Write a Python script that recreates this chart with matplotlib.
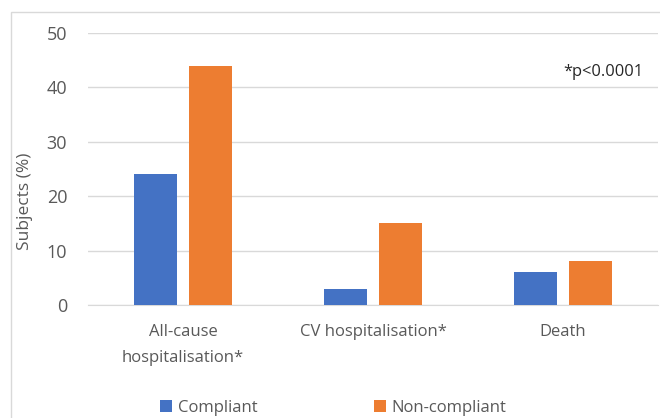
import matplotlib
matplotlib.use("Agg")
import matplotlib.pyplot as plt
import numpy as np
from matplotlib.patches import Rectangle

categories = ["All-cause\nhospitalisation*", "CV hospitalisation*", "Death"]
series_names = ["Compliant", "Non-compliant"]
compliant = [24, 3, 6]
non_compliant = [44, 15, 8]
yticks = [0, 10, 20, 30, 40, 50]

plt.rcParams['font.family'] = ['Open Sans', 'DejaVu Sans']

fig = plt.figure(figsize=(6.6, 4.18), dpi=100)
fig.patch.set_facecolor("white")
# outer chart border (cropped at right and bottom)
fig.patches.append(Rectangle((11/660, -0.1), 1.2, (418-12)/418 + 0.1,
                             transform=fig.transFigure, fill=False,
                             edgecolor="#D9D9D9", linewidth=1.0))

ax = fig.add_axes([88/660, (418-305)/418, 570/660, 272/418])
x = np.arange(len(categories))
w = 0.226
off = 0.145
ax.bar(x - off, compliant, w, color="#4472C4", label=series_names[0], zorder=3)
ax.bar(x + off, non_compliant, w, color="#ED7D31", label=series_names[1], zorder=3)

ax.set_xlim(-0.5, 2.5)
ax.set_ylim(0, 50)
ax.set_yticks(yticks)
ax.set_yticklabels([str(t) for t in yticks])
ax.grid(axis="y", color="#D9D9D9", linewidth=1.0, zorder=0)
for s in ["top", "right", "left"]:
    ax.spines[s].set_visible(False)
ax.spines["bottom"].set_color("#D9D9D9")
ax.tick_params(axis="both", length=0, colors="#595959")
ax.tick_params(axis="y", pad=15, labelsize=13)
ax.tick_params(axis="x", pad=14, labelsize=12)
ax.set_xticks(x)
ax.set_xticklabels(categories, linespacing=1.8)

ax.set_ylabel("Subjects (%)", color="#595959", fontsize=12.5)
ax.yaxis.set_label_coords(-0.096, 0.382)

fig.text(643/660, (418-72)/418, "*p<0.0001", ha="right", va="center",
         fontsize=11.8, color="#262626")

leg = fig.legend(loc="center", bbox_to_anchor=(0.505, 0.025), ncol=2,
                 frameon=False, fontsize=12, handlelength=0.7,
                 handleheight=0.7, handletextpad=0.35, columnspacing=7.0)
for t in leg.get_texts():
    t.set_color("#595959")

fig.savefig("out.png", dpi=100, facecolor="white")
